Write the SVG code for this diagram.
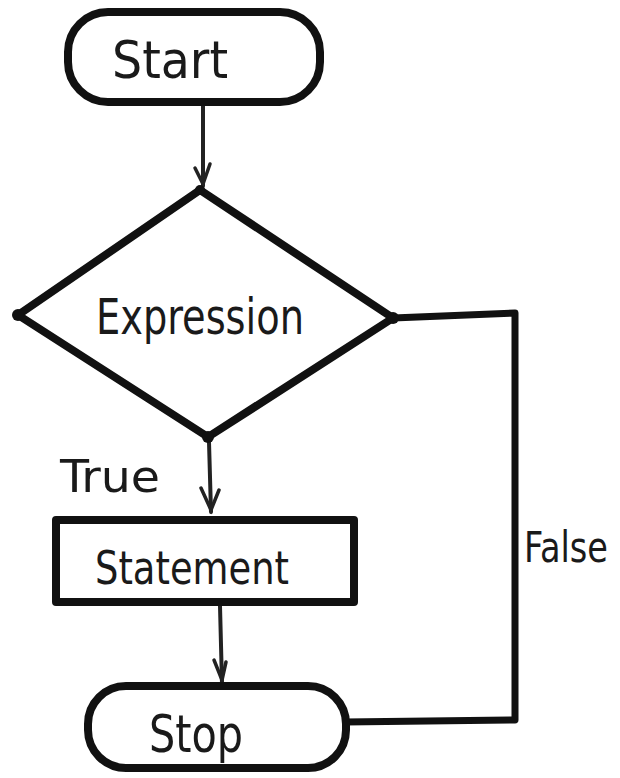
<svg xmlns="http://www.w3.org/2000/svg" width="620" height="778" viewBox="0 0 620 778">
<defs>
<style>
.shape{fill:#fff;stroke:#111;stroke-width:8;stroke-linejoin:round}
.line{fill:none;stroke:#111;stroke-width:7;stroke-linecap:round;stroke-linejoin:round}
.arrow{fill:none;stroke:#222;stroke-width:4;stroke-linecap:round}
.head{fill:none;stroke:#222;stroke-width:3.5;stroke-linecap:round}
.lbl{font-family:"DejaVu Sans Condensed","Liberation Sans",sans-serif;fill:#1a1a1a}
</style>
</defs>
<rect width="620" height="778" fill="#fff"/>
<g id="connectors">
<path class="arrow" d="M203 104 L203 186"/>
<path class="head" d="M195 168 L203 184 L210 164"/>
<path class="arrow" d="M209 442 L211 512"/>
<path class="head" d="M201 488 L211 510 L219 490"/>
<path class="arrow" d="M220 606 L222 684"/>
<path class="head" d="M214 660 L222 680 L226 662"/>
<path class="line" d="M393 318 L515 313 L515 720 L345 722"/>
<text class="lbl" x="60" y="492" font-size="44" textLength="100" lengthAdjust="spacingAndGlyphs">True</text>
<text class="lbl" x="524" y="562" font-size="42" textLength="84" lengthAdjust="spacingAndGlyphs">False</text>
</g>
<g id="start">
<rect class="shape" x="68" y="12" width="252" height="90" rx="40"/>
<text class="lbl" x="170" y="78" font-size="52" text-anchor="middle" textLength="116" lengthAdjust="spacingAndGlyphs">Start</text>
</g>
<g id="expression">
<polygon class="shape" points="200,190 393,318 208,437 18,315"/>
<circle cx="18" cy="315" r="6" fill="#111"/>
<circle cx="393" cy="318" r="6" fill="#111"/>
<circle cx="208" cy="437" r="6" fill="#111"/>
<circle cx="200" cy="190" r="5" fill="#111"/>
<text class="lbl" x="200" y="334" font-size="50" text-anchor="middle" textLength="208" lengthAdjust="spacingAndGlyphs">Expression</text>
</g>
<g id="statement">
<rect class="shape" x="56" y="520" width="298" height="82"/>
<text class="lbl" x="192" y="584" font-size="46" text-anchor="middle" textLength="194" lengthAdjust="spacingAndGlyphs">Statement</text>
</g>
<g id="stop">
<rect class="shape" x="88" y="686" width="258" height="82" rx="38"/>
<text class="lbl" x="196" y="752" font-size="52" text-anchor="middle" textLength="94" lengthAdjust="spacingAndGlyphs">Stop</text>
</g>
</svg>
